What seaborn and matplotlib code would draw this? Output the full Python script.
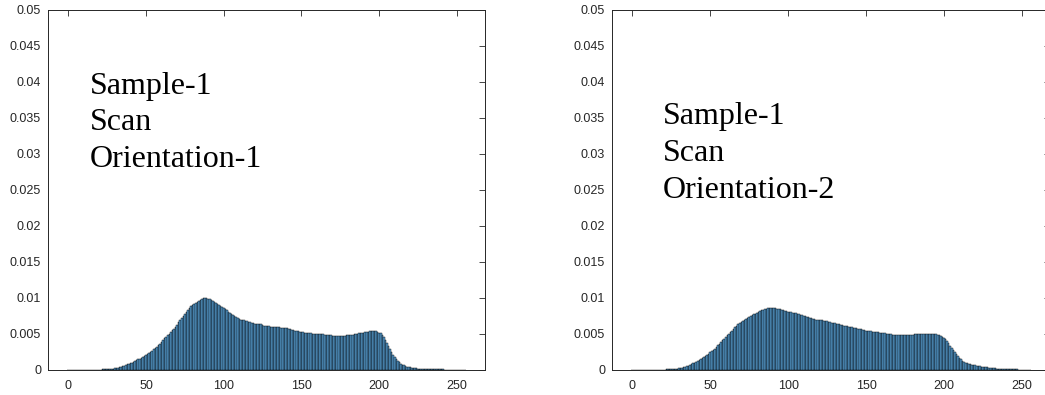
import numpy as np
import pandas as pd
import seaborn as sns
import matplotlib.pyplot as plt

sns.set_style("white")
plt.rcParams['font.family'] = ['Liberation Sans', 'DejaVu Sans']

# grey levels 0..255 (bin centres)
levels = np.arange(256)

# normalised histogram heights, in units of 1e-5
orient1 = [
    0, 0, 0, 0, 0, 0, 0, 0, 0, 0,
    0, 0, 1, 1, 1, 2, 2, 3, 3, 4,
    5, 6, 7, 8, 10, 11, 13, 15, 18, 20,
    24, 28, 33, 38, 44, 51, 60, 68, 77, 85,
    94, 104, 114, 124, 135, 147, 158, 168, 180, 192,
    204, 218, 234, 252, 270, 288, 306, 326, 346, 368,
    392, 416, 440, 462, 484, 506, 528, 552, 576, 600,
    630, 660, 690, 720, 750, 780, 808, 836, 860, 882,
    902, 918, 932, 948, 962, 975, 986, 994, 998, 996,
    990, 982, 972, 960, 946, 932, 918, 904, 892, 878,
    862, 846, 830, 812, 794, 778, 762, 746, 732, 718,
    706, 698, 692, 688, 684, 678, 670, 662, 654, 648,
    644, 642, 640, 638, 634, 626, 618, 612, 608, 606,
    604, 602, 600, 598, 596, 594, 592, 590, 588, 586,
    584, 582, 576, 568, 560, 554, 548, 542, 536, 530,
    528, 524, 520, 518, 514, 512, 508, 506, 504, 502,
    500, 500, 498, 496, 494, 492, 490, 488, 484, 480,
    478, 476, 474, 474, 474, 476, 476, 478, 478, 480,
    482, 484, 488, 492, 496, 500, 504, 508, 512, 516,
    520, 524, 528, 532, 536, 540, 542, 542, 540, 534,
    520, 508, 488, 458, 420, 378, 335, 292, 252, 215,
    182, 155, 130, 108, 90, 76, 64, 54, 46, 40,
    35, 31, 28, 25, 22, 20, 18, 17, 16, 15,
    14, 13, 12, 11, 10, 10, 9, 9, 8, 8,
    7, 7, 6, 6, 5, 5, 5, 4, 4, 4,
    3, 3, 2, 2, 1, 1,
]

orient2 = [
    0, 0, 0, 0, 0, 0, 0, 0, 0, 0,
    0, 0, 1, 1, 1, 2, 2, 3, 3, 4,
    5, 6, 7, 8, 10, 11, 13, 15, 18, 20,
    24, 28, 33, 38, 44, 52, 61, 71, 81, 92,
    104, 116, 129, 142, 156, 171, 186, 200, 214, 228,
    244, 260, 278, 298, 320, 342, 364, 388, 412, 436,
    460, 482, 504, 526, 548, 570, 592, 614, 634, 652,
    668, 682, 696, 708, 722, 736, 748, 760, 772, 784,
    796, 808, 818, 828, 838, 846, 852, 856, 860, 862,
    862, 860, 858, 854, 850, 844, 838, 830, 822, 816,
    810, 806, 802, 798, 794, 788, 782, 774, 766, 758,
    752, 746, 740, 734, 728, 720, 712, 706, 700, 698,
    696, 694, 690, 686, 682, 676, 670, 664, 658, 652,
    648, 644, 638, 632, 626, 620, 616, 612, 608, 604,
    598, 592, 586, 582, 578, 574, 570, 564, 558, 552,
    548, 544, 540, 538, 534, 530, 528, 526, 522, 518,
    514, 512, 510, 506, 502, 498, 494, 492, 490, 490,
    490, 490, 490, 488, 486, 484, 484, 486, 488, 490,
    492, 494, 496, 498, 500, 502, 504, 504, 504, 502,
    500, 500, 500, 498, 496, 494, 490, 484, 474, 460,
    446, 426, 400, 370, 338, 306, 274, 244, 216, 190,
    166, 146, 130, 116, 104, 94, 86, 79, 73, 68,
    63, 59, 55, 51, 48, 45, 42, 39, 36, 33,
    28, 26, 24, 22, 20, 19, 18, 17, 15, 14,
    13, 12, 11, 10, 9, 8, 8, 7, 6, 6,
    5, 4, 3, 2, 2, 1,
]

labels = [["Sample-1", "Scan", "Orientation-1"],
          ["Sample-1", "Scan", "Orientation-2"]]

fig = plt.figure(figsize=(10.45, 3.95), dpi=100)
ax1 = fig.add_axes([48 / 1045, 25 / 395, 437 / 1045, 360 / 395])
ax2 = fig.add_axes([612 / 1045, 25 / 395, 438 / 1045, 360 / 395])

text_pos = [(14.1, [0.03833, 0.03333, 0.02819]),
            (19.7, [0.03417, 0.02903, 0.02389])]

for ax, vals, lab, (tx, tys) in zip([ax1, ax2], [orient1, orient2], labels, text_pos):
    df = pd.DataFrame({"level": levels, "p": np.array(vals) * 1e-5})
    sns.histplot(data=df, x="level", weights="p", binwidth=1, binrange=(-0.5, 255.5),
                 ax=ax, color="#58a0d4", edgecolor="black", linewidth=0.3, alpha=1)
    ax.set_xlim(-13, 268)
    ax.set_ylim(0, 0.05)
    ax.set_xticks(np.arange(0, 251, 50))
    yt = np.arange(0, 0.0501, 0.005)
    ax.set_yticks(yt)
    ax.set_yticklabels([f"{v:g}" for v in yt])
    ax.set_xlabel("")
    ax.set_ylabel("")
    ax.tick_params(direction="in", length=4, width=0.6, top=True, right=True,
                   labelsize=9, colors="#262626")
    ax.tick_params(axis="x", pad=7)
    ax.tick_params(axis="y", pad=5)
    for s in ax.spines.values():
        s.set_color("#262626")
        s.set_linewidth(0.7)
    for line, ty in zip(lab, tys):
        ax.text(tx, ty, line, family="Liberation Serif", fontsize=23, color="black",
                va="baseline", ha="left")

fig.savefig("out.png", dpi=100)
